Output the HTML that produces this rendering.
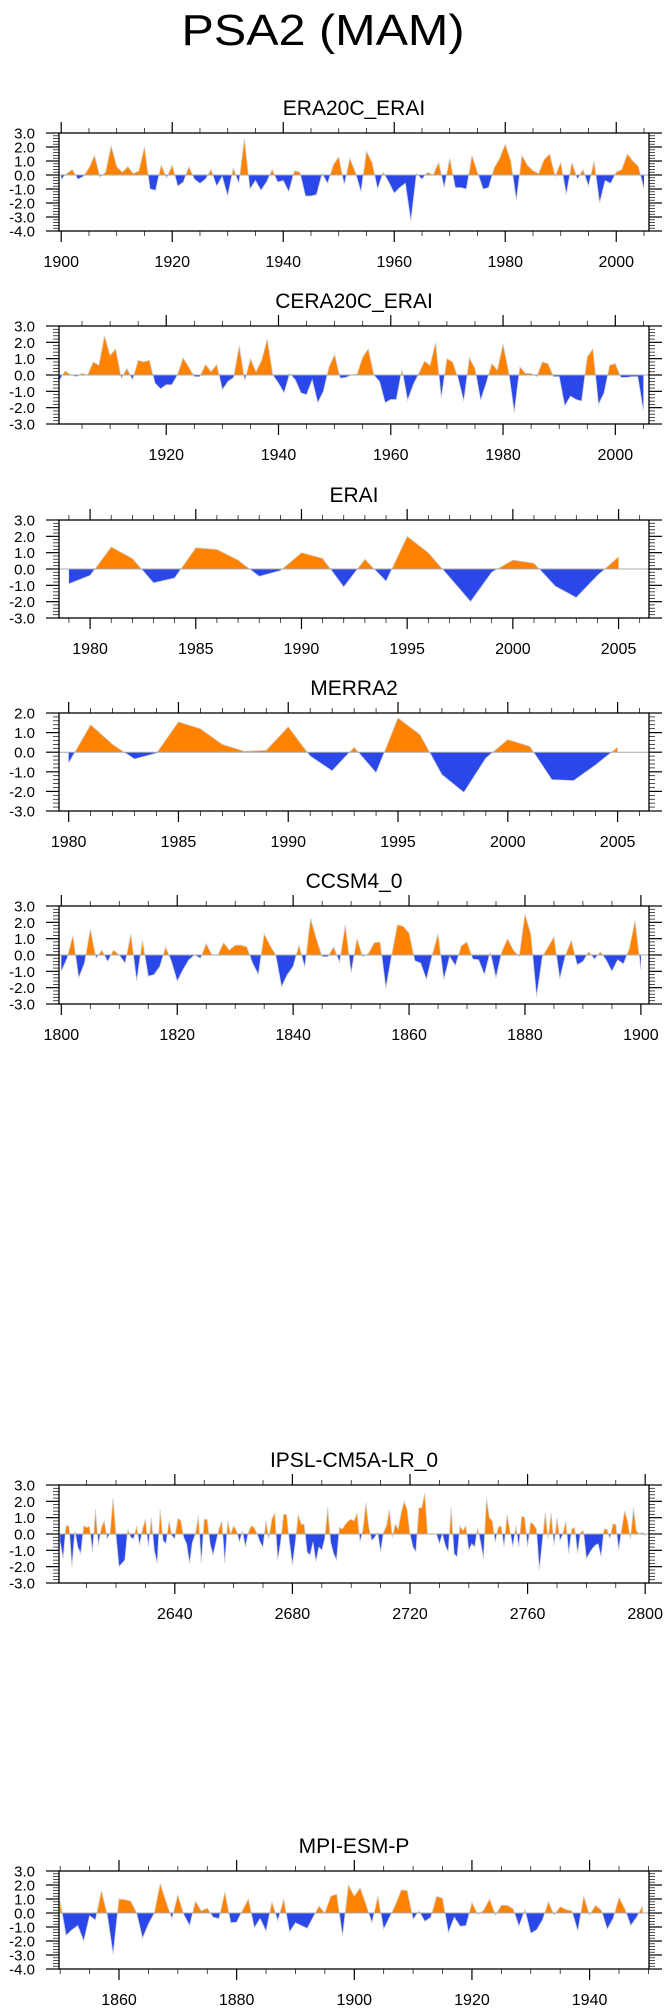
<!DOCTYPE html>
<html><head><meta charset="utf-8"><title>PSA2 (MAM)</title>
<style>
html,body{margin:0;padding:0;background:#fff;}
svg{display:block;font-family:"Liberation Sans",Arial,sans-serif;}
</style></head>
<body>
<svg id="fig" width="671" height="2014" viewBox="0 0 671 2014" xmlns="http://www.w3.org/2000/svg">
<text x="323" y="45" font-size="44" text-anchor="middle" textLength="283" lengthAdjust="spacingAndGlyphs">PSA2 (MAM)</text>
</svg>
<script>
// ---- data ----
const era20cStart = 1900;
const era20cValues = [-0.3,0.1,0.4,-0.3,-0.1,0.5,1.4,-0.15,0.2,2.1,
0.6,0.2,0.6,0.1,0.3,2.0,-1.0,-1.1,0.7,-0.2,
0.7,-0.8,-0.5,0.6,-0.3,-0.6,-0.3,0.4,-0.8,-0.1,
-1.5,0.5,-0.6,2.6,-1.0,-0.4,-1.1,-0.5,0.4,-0.5,
-0.4,-1.2,0.3,0.2,-1.5,-1.5,-1.4,0.1,-0.6,0.7,
1.3,-0.7,1.2,0.2,-1.2,1.7,0.9,-1.0,0.2,-0.5,
-1.3,-0.9,-0.6,-3.3,0.1,-0.3,0.2,0.0,0.9,-0.9,
1.2,-0.9,-0.9,-1.0,1.4,0.2,-1.0,-0.9,0.5,1.2,
2.2,1.0,-1.8,1.4,0.7,0.3,0.1,1.1,1.5,-0.1,
0.9,-1.4,0.9,-0.3,0.4,-0.8,1.0,-2.0,-0.4,-0.6,
0.2,0.4,1.5,1.0,0.6,-1.0];
const cera20cStart = 1901;
const cera20cValues = [-0.3,0.25,0.0,-0.1,0.1,0.0,0.8,0.6,2.4,1.2,
1.6,-0.2,0.4,-0.3,0.9,0.8,0.9,-0.5,-0.85,-0.6,
-0.6,0.0,1.05,0.5,-0.1,-0.1,0.65,0.2,0.65,-0.9,
-0.4,-0.15,1.8,-0.35,1.0,0.2,0.9,2.2,0.0,-0.5,
-1.1,0.1,-0.3,-1.1,-1.2,-0.3,-1.7,-1.0,0.5,1.25,
-0.2,-0.15,0.0,0.05,1.1,1.6,0.0,-0.4,-1.7,-1.5,
-1.5,0.35,-1.55,-0.6,0.1,0.85,0.6,2.0,-1.4,1.0,
0.8,-0.2,-1.6,1.05,0.4,-1.55,-0.5,0.7,0.3,1.9,
0.2,-2.3,0.5,0.1,0.1,-0.1,0.8,0.7,-0.1,-0.1,
-1.9,-1.3,-1.5,-1.6,1.1,1.6,-1.8,-1.1,0.6,0.7,
-0.15,-0.15,-0.1,-0.1,-2.2];
const eraiStart = 1979;
const eraiValues = [-0.9,-0.4,1.35,0.65,-0.85,-0.55,1.3,1.2,0.55,-0.45,
-0.1,1.0,0.65,-1.1,0.6,-0.75,2.0,1.0,-0.5,-2.0,
-0.2,0.55,0.35,-1.05,-1.75,-0.4,0.75];
const merra2Start = 1980;
const merra2Values = [-0.55,1.4,0.4,-0.35,-0.05,1.55,1.2,0.4,0.05,0.1,
1.3,-0.2,-0.95,0.25,-1.05,1.75,0.9,-1.15,-2.05,-0.3,
0.65,0.3,-1.4,-1.45,-0.65,0.25];
const ccsm4Start = 1800;
const ccsm4Values = [-1.0,-0.2,1.2,-1.4,-0.5,1.6,-0.2,0.3,-0.4,0.3,
0.0,-0.5,1.3,-1.6,0.9,-1.3,-1.2,-0.7,0.5,-0.4,
-1.6,-0.9,-0.3,0.0,-0.2,0.7,0.0,0.0,0.75,0.3,
0.6,0.6,0.5,-0.5,-1.2,1.3,0.6,0.0,-1.95,-1.2,
-0.7,0.6,-0.75,2.25,1.0,-0.1,-0.1,0.5,-0.45,1.85,
-1.1,1.0,-0.1,0.1,0.75,0.8,-2.05,0.0,1.85,1.75,
1.35,-0.35,-0.5,-1.5,0.0,1.3,-1.5,-0.1,-0.65,0.55,
0.8,-0.25,-0.3,-1.2,0.2,-1.4,0.2,1.0,0.3,-0.1,
2.5,1.3,-2.55,-0.1,0.5,1.1,-1.45,0.0,0.9,-0.6,
-0.4,0.2,-0.25,0.2,-0.3,-1.0,-0.3,-0.55,0.4,2.1,
-0.9];
const ipslStart = 2601;
const ipslValues = [-0.5,-1.5,0.5,0.5,-2.0,0.2,-0.8,-1.2,0.5,0.4,
0.45,-1.1,1.5,-0.7,0.4,0.8,-0.3,0.1,2.2,-0.1,
-2.0,-1.8,-1.6,0.3,-0.2,-0.3,0.5,-0.7,0.3,0.9,
-0.8,1.0,-1.0,-1.8,1.5,-0.4,-0.6,0.8,-0.1,-0.3,
0.95,0.85,-0.2,-0.6,-1.8,-0.5,0.0,1.1,-1.8,0.9,
0.9,-0.6,-1.3,-0.5,0.3,0.8,-1.8,0.8,0.0,0.5,
0.2,-0.5,0.2,-0.8,0.1,0.5,0.4,0.0,-0.5,-0.8,
0.8,-0.3,0.9,1.3,-1.6,-0.5,1.2,1.2,-0.5,-1.9,
-0.5,1.2,0.6,0.6,-1.1,-1.3,-0.5,-1.7,-0.8,-1.0,
-0.3,1.6,-0.5,-1.2,-1.6,0.4,0.3,0.6,0.8,0.9,
0.8,1.3,-0.5,0.3,1.9,0.4,-0.4,-0.2,0.1,-1.1,
0.1,0.5,1.5,-0.2,0.6,0.3,1.3,2.0,1.5,0.0,
-0.8,-1.1,1.6,1.6,2.5,0.0,0.0,0.0,0.0,-0.6,
0.0,-0.7,-1.1,1.6,-1.2,-1.4,0.5,0.2,0.5,-1.0,
-0.6,-0.8,0.4,-0.5,-1.5,2.2,1.0,0.8,-0.5,0.4,
0.5,-0.8,1.2,0.2,-0.8,0.5,-0.8,1.1,1.0,-0.8,
0.7,0.6,0.3,-2.2,-0.5,1.3,-0.3,1.3,-0.7,1.0,
-0.4,0.0,0.8,-1.2,0.3,0.4,-1.2,0.1,0.2,-1.5,
-1.2,-0.9,-0.7,-0.6,-1.4,0.3,0.3,-0.3,0.6,0.6,
-1.0,0.3,1.4,0.8,-0.3,1.6,0.2,0.0,0.1,-0.1];
const mpiStart = 1850;
const mpiValues = [0.85,-1.6,-1.2,-0.9,-2.0,-0.2,-0.5,1.6,-0.1,-2.95,
1.0,0.95,0.85,0.0,-1.8,-0.8,0.0,2.1,0.8,-0.4,
1.3,-0.1,-0.9,0.85,0.15,0.35,-0.3,-0.4,1.5,-0.7,
-0.65,0.2,1.0,-1.05,-0.4,-1.3,0.8,-0.55,1.0,-1.35,
-0.7,-0.9,-1.1,-0.3,0.5,0.0,1.2,1.35,-1.65,2.0,
1.2,1.8,0.6,-0.7,1.2,-1.15,-0.3,0.6,1.65,1.6,
-0.45,0.15,-0.6,-0.3,1.2,1.05,-1.4,-0.3,-0.95,-0.9,
0.75,-0.1,0.2,1.0,-0.15,0.55,0.55,0.3,-0.95,0.25,
-1.45,-1.2,-0.5,0.8,-0.15,0.45,0.25,0.15,-1.3,1.2,
-0.15,0.55,0.2,-1.15,-0.4,1.1,0.3,-0.9,-0.3,0.5];

// ---- layout (not data) ----
const panels = [
 {key:'era20c-erai', title:'ERA20C_ERAI', start:era20cStart, vals:era20cValues, xmin:1899.6, xmax:2005.9, ymin:-4, ymax:3, top:133, major:20, minor:5},
 {key:'cera20c-erai', title:'CERA20C_ERAI', start:cera20cStart, vals:cera20cValues, xmin:1900.9, xmax:2006.0, ymin:-3, ymax:3, top:326, major:20, minor:5},
 {key:'erai', title:'ERAI', start:eraiStart, vals:eraiValues, xmin:1978.53, xmax:2006.44, ymin:-3, ymax:3, top:520, major:5, minor:1},
 {key:'merra2', title:'MERRA2', start:merra2Start, vals:merra2Values, xmin:1979.56, xmax:2006.43, ymin:-3, ymax:2, top:713, major:5, minor:1},
 {key:'ccsm4-0', title:'CCSM4_0', start:ccsm4Start, vals:ccsm4Values, xmin:1799.6, xmax:1901.4, ymin:-3, ymax:3, top:906, major:20, minor:5},
 {key:'ipsl-cm5a-lr-0', title:'IPSL-CM5A-LR_0', start:ipslStart, vals:ipslValues, xmin:2600.6, xmax:2801.3, ymin:-3, ymax:3, top:1485, major:40, minor:10},
 {key:'mpi-esm-p', title:'MPI-ESM-P', start:mpiStart, vals:mpiValues, xmin:1849.8, xmax:1950.1, ymin:-4, ymax:3, top:1871, major:20, minor:5}
];
const L = 59, R = 649, H = 98;
const NS = 'http://www.w3.org/2000/svg';
const svg = document.getElementById('fig');
function mk(tag, attrs, parent){
  const e = document.createElementNS(NS, tag);
  for (const k in attrs) e.setAttribute(k, attrs[k]);
  (parent||svg).appendChild(e);
  return e;
}
panels.forEach(function(p, pi){
  const g = mk('g', {});
  
  
  const top = p.top, bot = p.top + H;
  const xs = function(v){ return L + (v - p.xmin) / (p.xmax - p.xmin) * (R - L); };
  const ys = function(v){ return top + (p.ymax - v) / (p.ymax - p.ymin) * H; };
  // title
  const t = mk('text', {x:(L+R)/2, y:top-18, 'font-size':21, 'text-anchor':'middle'}, g);
  t.textContent = p.title;
  
  
  // clip paths
  const defs = mk('defs', {}, g);
  const y0 = ys(0);
  const cpA = mk('clipPath', {id:'ca'+pi}, defs);
  mk('rect', {x:L, y:top, width:R-L, height:y0-top}, cpA);
  const cpB = mk('clipPath', {id:'cb'+pi}, defs);
  mk('rect', {x:L, y:y0, width:R-L, height:bot-y0}, cpB);
  // curve polygon
  const pts = p.vals.map(function(v, i){ return xs(p.start + i).toFixed(2) + ',' + ys(v).toFixed(2); });
  const first = xs(p.start).toFixed(2), last = xs(p.start + p.vals.length - 1).toFixed(2);
  const poly = first + ',' + y0 + ' ' + pts.join(' ') + ' ' + last + ',' + y0;
  const pos = mk('polygon', {points:poly, fill:'#ff8300', 'clip-path':'url(#ca'+pi+')'}, g);
  
  
  const neg = mk('polygon', {points:poly, fill:'#2a47ea', 'clip-path':'url(#cb'+pi+')'}, g);
  
  
  const line = mk('polyline', {points:pts.join(' '), fill:'none', stroke:'#d0d0d0', 'stroke-width':0.8}, g);
  
  
  const zl = mk('line', {x1:L, x2:R, y1:y0, y2:y0, stroke:'#aaaaaa', 'stroke-width':1}, g);
  
  
  // frame
  const fr = mk('rect', {x:L, y:top, width:R-L, height:H, fill:'none', stroke:'#000', 'stroke-width':1.3}, g);
  
  
  // y ticks + labels
  for (let k = Math.round(p.ymin*5); k <= Math.round(p.ymax*5); k++){
    const v = k/5, y = ys(v), isMaj = (k % 5 === 0);
    const len = isMaj ? 13 : 6;
    mk('line', {x1:L-len, x2:L, y1:y, y2:y, stroke:'#000', 'stroke-width':isMaj?1.2:0.7}, g);
    mk('line', {x1:R, x2:R+len, y1:y, y2:y, stroke:'#000', 'stroke-width':isMaj?1.2:0.7}, g);
    if (isMaj){
      const lt = mk('text', {x:35, y:y+5.5, 'font-size':15, 'text-anchor':'end'}, g);
      lt.textContent = v.toFixed(1);
      
      
    }
  }
  // x ticks + labels
  const s = Math.ceil(p.xmin / p.minor) * p.minor;
  for (let yr = s; yr <= p.xmax; yr += p.minor){
    const x = xs(yr), isMaj = (yr % p.major === 0);
    const len = isMaj ? 11 : 5;
    mk('line', {x1:x, x2:x, y1:top-len, y2:top, stroke:'#000', 'stroke-width':isMaj?1.2:0.7}, g);
    mk('line', {x1:x, x2:x, y1:bot, y2:bot+len, stroke:'#000', 'stroke-width':isMaj?1.2:0.7}, g);
    if (isMaj){
      const xt = mk('text', {x:x, y:bot+36, 'font-size':16, 'text-anchor':'middle'}, g);
      xt.textContent = String(yr);
      
      
    }
  }
});
</script>
</body></html>
